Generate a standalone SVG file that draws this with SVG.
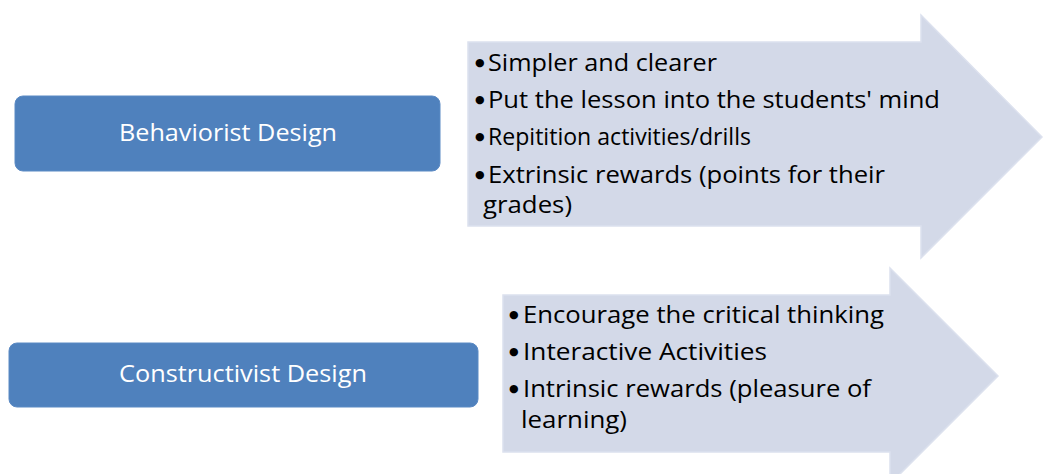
<svg xmlns="http://www.w3.org/2000/svg" width="1044" height="474" viewBox="0 0 1044 474">
<style>
.box{fill:#4F81BD;stroke:#5B8AC4;stroke-width:1}
.arr{fill:#D3D9E8;stroke:#DCE1EE;stroke-width:1.5}
.bt{font-family:"Open Sans","Liberation Sans",sans-serif;font-size:24px;fill:#FFFFFF}
.lt{font-family:"Open Sans","Liberation Sans",sans-serif;font-size:24px;fill:#000000}
.bu{font-family:"DejaVu Sans",sans-serif;font-size:11px;fill:#000000}
</style>
<rect width="1044" height="474" fill="#FFFFFF"/>
<g id="arrow-behaviorist">
<path class="arr" d="M468,42 H921 V15 L1042,137 L921,258 V226 H468 Z"/>
<text class="bu" x="475" y="66">●</text>
<text class="lt" x="488" y="71" textLength="229" lengthAdjust="spacingAndGlyphs">Simpler and clearer</text>
<text class="bu" x="475" y="103">●</text>
<text class="lt" x="488" y="108" textLength="452" lengthAdjust="spacingAndGlyphs">Put the lesson into the students' mind</text>
<text class="bu" x="475" y="140">●</text>
<text class="lt" x="488" y="145" textLength="263" lengthAdjust="spacingAndGlyphs">Repitition activities/drills</text>
<text class="bu" x="475" y="178">●</text>
<text class="lt" x="488" y="183" textLength="397" lengthAdjust="spacingAndGlyphs">Extrinsic rewards (points for their</text>
<text class="lt" x="483" y="213" textLength="89" lengthAdjust="spacingAndGlyphs">grades)</text>
</g>
<g id="arrow-constructivist">
<path class="arr" d="M503,295 H890 V268 L998,376 L890,484 V452 H503 Z"/>
<text class="bu" x="509" y="318">●</text>
<text class="lt" x="523" y="323" textLength="361" lengthAdjust="spacingAndGlyphs">Encourage the critical thinking</text>
<text class="bu" x="509" y="355">●</text>
<text class="lt" x="523" y="360" textLength="244" lengthAdjust="spacingAndGlyphs">Interactive Activities</text>
<text class="bu" x="509" y="392">●</text>
<text class="lt" x="523" y="397" textLength="348" lengthAdjust="spacingAndGlyphs">Intrinsic rewards (pleasure of</text>
<text class="lt" x="521" y="428" textLength="106" lengthAdjust="spacingAndGlyphs">learning)</text>
</g>
<g id="node-behaviorist">
<rect class="box" x="15" y="96" width="425" height="75" rx="8"/>
<text class="bt" x="119" y="141" textLength="218" lengthAdjust="spacingAndGlyphs">Behaviorist Design</text>
</g>
<g id="node-constructivist">
<rect class="box" x="9" y="343" width="469" height="64" rx="8"/>
<text class="bt" x="119" y="382" textLength="248" lengthAdjust="spacingAndGlyphs">Constructivist Design</text>
</g>
<g id="connectors"></g>
</svg>
